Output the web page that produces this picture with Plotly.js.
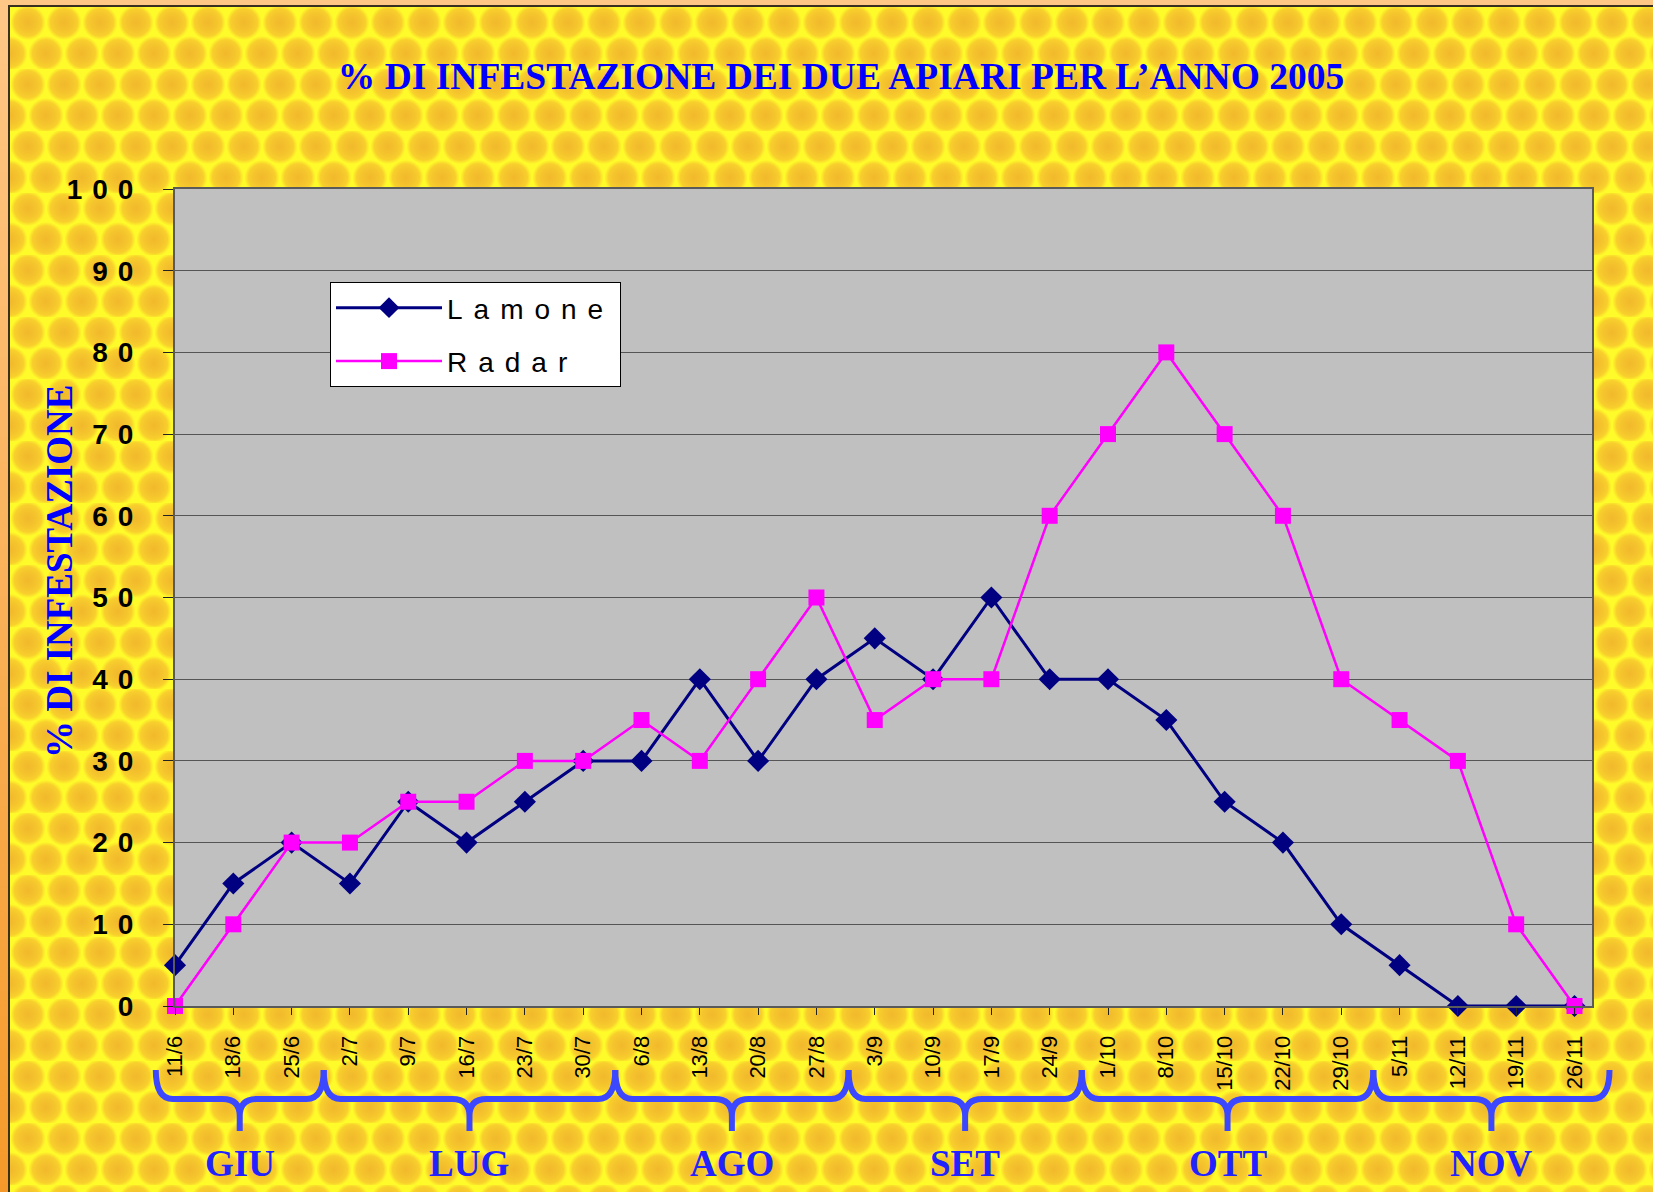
<!DOCTYPE html>
<html><head><meta charset="utf-8">
<script src="https://cdn.plot.ly/plotly-3.0.1.min.js"></script>
<style>
html,body{margin:0;padding:0;background:#fff;}
#frame{position:relative;width:1653px;height:1192px;overflow:hidden;background:linear-gradient(#FFC786,#F59A2A);}
#bg{position:absolute;left:8px;top:5px;right:0;bottom:0;border-left:2px solid #3a3020;border-top:2px solid #3a3020;
 background-color:#FFFA2A;
 background-image:
  radial-gradient(circle at 18px 15.5px, #F1B82C 0px, #F5C52D 9px, #F8CF2C 13.5px, rgba(255,250,42,0) 17.5px),
  radial-gradient(circle at 0px 46.5px, #F1B82C 0px, #F5C52D 9px, #F8CF2C 13.5px, rgba(255,250,42,0) 17.5px),
  radial-gradient(circle at 36px 46.5px, #F1B82C 0px, #F5C52D 9px, #F8CF2C 13.5px, rgba(255,250,42,0) 17.5px);
 background-size:36px 62px;}
#chart{position:absolute;left:0;top:0;width:1653px;height:1192px;}
text.legendtext{letter-spacing:11px;}
g.ytick text{letter-spacing:10px;}
</style>
</head><body>
<div id="frame"><div id="bg"></div><div id="chart"></div></div>
<script>
// ---- data ----
const dates = ['11/6','18/6','25/6','2/7','9/7','16/7','23/7','30/7','6/8','13/8','20/8','27/8','3/9','10/9','17/9','24/9','1/10','8/10','15/10','22/10','29/10','5/11','12/11','19/11','26/11'];
const lamone = [5,15,20,15,25,20,25,30,30,40,30,40,45,40,50,40,40,35,25,20,10,5,0,0,0];
const radar  = [0,10,20,20,25,25,30,30,35,30,40,50,35,40,40,60,70,80,70,60,40,35,30,10,0];
const seriesNames = ['Lamone','Radar'];
const months = ['GIU','LUG','AGO','SET','OTT','NOV'];
const monthStart = [0,3,8,12,16,21];
const yTicks = [0,10,20,30,40,50,60,70,80,90,100];
const titleText = '% DI INFESTAZIONE DEI DUE APIARI PER L\u2019ANNO 2005';
const yTitleText = '% DI INFESTAZIONE';

// ---- geometry ----
const W = 1653, H = 1192;
const M = {l:175, r:61, t:189, b:186};
const PW = W - M.l - M.r, PH = H - M.t - M.b;
const xr = [0, 24.3];
const catPx = c => M.l + (c - xr[0]) / (xr[1] - xr[0]) * PW;
const X = px => ((px - M.l) / PW).toFixed(5);
const Y = py => ((M.t + PH - py) / PH).toFixed(5);

const serif = 'Liberation Serif, Times New Roman, serif';
const sans = 'Liberation Sans, Arial, sans-serif';

const yTop = 1070, yMid = 1099, yCusp = 1116, yBot = 1131, rr = 17;
const shapes = [], annotations = [];
months.forEach((m, i) => {
  const c0 = i === 0 ? monthStart[0] - 0.33 : monthStart[i] - 0.45;
  const c1 = i === months.length - 1 ? dates.length - 1 + 0.6 : monthStart[i + 1] - 0.45;
  const x0 = catPx(c0), x1 = catPx(c1), xc = (x0 + x1) / 2;
  const path =
    `M${X(x0)},${Y(yTop)} Q${X(x0)},${Y(yMid)} ${X(x0 + rr)},${Y(yMid)} ` +
    `L${X(xc - rr)},${Y(yMid)} Q${X(xc)},${Y(yMid)} ${X(xc)},${Y(yCusp)} L${X(xc)},${Y(yBot)} ` +
    `M${X(xc)},${Y(yCusp)} Q${X(xc)},${Y(yMid)} ${X(xc + rr)},${Y(yMid)} ` +
    `L${X(x1 - rr)},${Y(yMid)} Q${X(x1)},${Y(yMid)} ${X(x1)},${Y(yTop)}`;
  shapes.push({type:'path', xref:'paper', yref:'paper', path:path, layer:'above',
    line:{color:'#3C48FF', width:6}});
  annotations.push({xref:'paper', yref:'paper', x:+X(xc), y:+Y(1164), text:m, showarrow:false,
    xanchor:'center', yanchor:'middle',
    font:{family:serif, size:37, color:'#2222FF', weight:'bold'}});
});
// y-axis title placed as a rotated label left of the tick labels
annotations.push({xref:'paper', yref:'paper', x:+X(60), y:+Y(571), text:yTitleText, textangle:-90,
  showarrow:false, xanchor:'center', yanchor:'middle',
  font:{family:serif, size:37, color:'#0000FF', weight:'bold'}});

const traces = [
  {type:'scatter', mode:'lines+markers', x:dates, y:lamone, name:seriesNames[0], legendgroup:'g1',
   cliponaxis:false, line:{color:'#000080', width:3},
   marker:{symbol:'diamond', size:17, color:'#000080'}},
  {type:'scatter', mode:'lines+markers', x:dates, y:radar, name:seriesNames[1], legendgroup:'g2',
   cliponaxis:false, line:{color:'#FF00FF', width:2.5},
   marker:{symbol:'square', size:16, color:'#FF00FF'}}
];

const layout = {
  width:W, height:H, margin:M,
  paper_bgcolor:'rgba(0,0,0,0)', plot_bgcolor:'#C0C0C0',
  title:{text:titleText, x:841/W, xanchor:'center', y:1 - 76/H, yanchor:'middle',
    font:{family:serif, size:37.5, color:'#0000FF', weight:'bold'}},
  xaxis:{type:'category', range:xr, tickangle:-90, ticks:'outside', ticklen:7, tickcolor:'#222',
    tickfont:{family:sans, size:22, color:'#000'},
    showgrid:false, showline:true, linecolor:'#5a5a5a', linewidth:2, mirror:true, zeroline:false,
    ticklabelstandoff:12},
  yaxis:{range:[0,100], tickvals:yTicks, ticks:'outside', ticklen:10, tickcolor:'#222',
    tickfont:{family:sans, size:28, color:'#000', weight:'bold'},
    gridcolor:'#555', gridwidth:1, showline:true, linecolor:'#5a5a5a', linewidth:2, mirror:true,
    zeroline:false, ticklabelstandoff:14},
  showlegend:true,
  legend:{x:(330 - M.l) / PW, y:(M.t + PH - 282) / PH, xanchor:'left', yanchor:'top',
    bgcolor:'#FFFFFF', bordercolor:'#000', borderwidth:1, tracegroupgap:14, itemwidth:106,
    font:{family:sans, size:28, color:'#000'}},
  shapes:shapes, annotations:annotations
};

Plotly.newPlot('chart', traces, layout, {displayModeBar:false, staticPlot:true});
</script>
</body></html>
